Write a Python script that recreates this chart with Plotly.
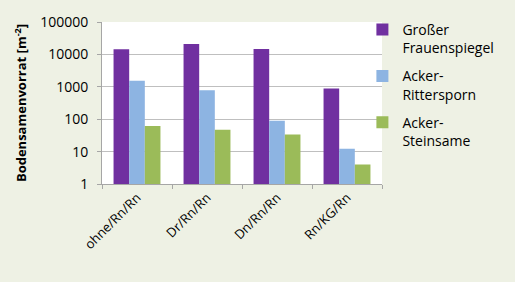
import plotly.graph_objects as go

categories = ["ohne/Rn/Rn", "Dr/Rn/Rn", "Dn/Rn/Rn", "Rn/KG/Rn"]
series_names = ["Großer<br>Frauenspiegel", "Acker-<br>Rittersporn", "Acker-<br>Steinsame"]
frauenspiegel = [14500, 21000, 14800, 880]
rittersporn = [1550, 780, 89, 12.3]
steinsame = [62, 47, 34, 4.0]
colors = ["#7030A0", "#8DB4E2", "#9BBB59"]
y_tickvals = [1, 10, 100, 1000, 10000, 100000]
y_ticktext = ["1", "10", "100", "1000", "10000", "100000"]

fig = go.Figure()
for i, (name, vals, col) in enumerate(zip(series_names, [frauenspiegel, rittersporn, steinsame], colors)):
    fig.add_trace(go.Bar(x=categories, y=vals, name=name, legendgroup=f"g{i}",
                         marker=dict(color=col, line=dict(width=0))))

font_family = "Open Sans, Liberation Sans, sans-serif"
fig.update_layout(
    width=515, height=282,
    margin=dict(l=102, r=133, t=13, b=98),
    paper_bgcolor="#EEF1E4",
    plot_bgcolor="#FFFFFF",
    barmode="group", bargap=0.33, bargroupgap=0,
    font=dict(family=font_family, size=13, color="#000000"),
    showlegend=True,
    legend=dict(x=0.93, y=1.05, xanchor="left", yanchor="top", valign="top",
                bgcolor="rgba(0,0,0,0)", font=dict(size=14), tracegroupgap=7,
                itemwidth=30, borderwidth=0, maxheight=270),
)
fig.update_xaxes(
    showline=True, linecolor="#A6A6A6", linewidth=1,
    ticks="outside", tickson="boundaries", ticklen=4, tickcolor="#A6A6A6",
    tickangle=-45, showgrid=False, tickfont=dict(size=13),
)
fig.update_yaxes(
    type="log", range=[0, 5],
    tickvals=y_tickvals, ticktext=y_ticktext,
    showline=True, linecolor="#A6A6A6", linewidth=1,
    ticks="outside", ticklen=4, tickcolor="#A6A6A6",
    showgrid=True, gridcolor="#BFBFBF", gridwidth=1,
    tickfont=dict(size=14), ticklabelstandoff=6,
    title=dict(text="<b>Bodensamenvorrat [m<sup>-2</sup>]</b>", font=dict(size=13), standoff=10),
)
fig.write_html("out.html")
